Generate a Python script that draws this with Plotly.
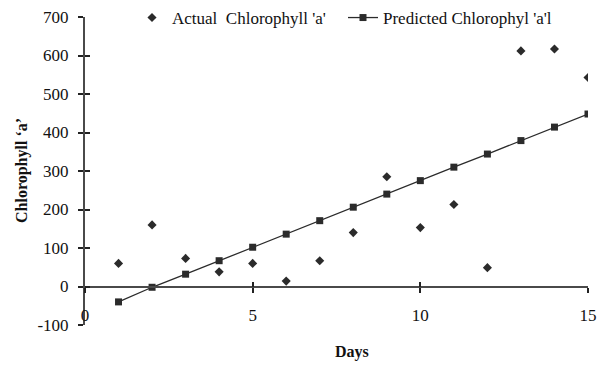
import plotly.graph_objects as go

# Daily chlorophyll 'a' observations and model predictions
days = [1, 2, 3, 4, 5, 6, 7, 8, 9, 10, 11, 12, 13, 14, 15]
actual_chl = [60, 160, 73, 38, 60, 14, 67, 140, 285, 153, 213, 49, 612, 617, 543]
predicted_chl = [-40, -2, 32, 67, 102, 136, 171, 206, 240, 275, 310, 344, 379, 414, 448]

x_ticks = [0, 5, 10, 15]
y_ticks = [-100, 0, 100, 200, 300, 400, 500, 600, 700]

FONT = "Liberation Serif"
AXIS_COLOR = "#4a4a4a"
MARK_COLOR = "#2b2b2b"

# Paper area: 503 x 325 px (no top margin, the legend sits in the strip above the plot)
PW, PH = 602 - 85 - 14, 366 - 41
PLOT_TOP = 17          # px from the top of the page
Y_ZERO_PX = 287        # where value 0 falls on the y axis


def px_y(py):
    """Convert a page pixel row into a paper y fraction."""
    return (PH - py) / PH


def px_x(px):
    return (px - 85) / PW


fig = go.Figure()

fig.add_trace(go.Scatter(
    x=days, y=actual_chl, mode="markers",
    name="Actual  Chlorophyll 'a'",
    marker=dict(symbol="diamond", size=7, color=MARK_COLOR),
    legend="legend",
))
fig.add_trace(go.Scatter(
    x=days, y=predicted_chl, mode="lines+markers",
    name="Predicted Chlorophyl 'a'l",
    line=dict(color=MARK_COLOR, width=1.3),
    marker=dict(symbol="square", size=7, color=MARK_COLOR),
    legend="legend2",
))

tick_font = dict(family=FONT, size=17, color="#111")
legend_font = dict(family=FONT, size=17, color="#111")

fig.update_layout(
    width=602, height=366,
    margin=dict(l=85, r=14, t=0, b=41, autoexpand=False),
    paper_bgcolor="white", plot_bgcolor="white",
    font=dict(family=FONT, size=17, color="#111"),
    xaxis=dict(
        range=[0, 15], tickvals=x_ticks, ticktext=[str(v) for v in x_ticks],
        anchor="free", position=px_y(Y_ZERO_PX),
        showline=True, linecolor=AXIS_COLOR, linewidth=2,
        ticks="outside", ticklen=5, tickwidth=1.5, tickcolor="#222",
        ticklabelstandoff=8, tickfont=tick_font,
        showgrid=False, zeroline=False,
    ),
    xaxis2=dict(
        range=[0, 15], tickvals=x_ticks, overlaying="x",
        anchor="free", position=px_y(Y_ZERO_PX), showticklabels=False,
        showline=False, ticks="inside", ticklen=5, tickwidth=1.5, tickcolor="#222",
        showgrid=False, zeroline=False,
    ),
    yaxis=dict(
        range=[-100, 700], domain=[0, px_y(PLOT_TOP)],
        tickvals=y_ticks, ticktext=[str(v) for v in y_ticks],
        showline=True, linecolor=AXIS_COLOR, linewidth=2,
        ticks="outside", ticklen=5, tickwidth=1.5, tickcolor="#222",
        ticklabelstandoff=6, tickfont=tick_font,
        showgrid=False, zeroline=False,
    ),
    yaxis2=dict(
        range=[-100, 700], domain=[0, px_y(PLOT_TOP)],
        tickvals=y_ticks, overlaying="y", anchor="x",
        showticklabels=False, showline=False,
        ticks="inside", ticklen=5, tickwidth=1.5, tickcolor="#222",
        showgrid=False, zeroline=False,
    ),
    legend=dict(x=px_x(132), y=px_y(18), xanchor="left", yanchor="middle",
                bgcolor="rgba(0,0,0,0)", font=legend_font, itemwidth=30),
    legend2=dict(x=px_x(343), y=px_y(18), xanchor="left", yanchor="middle",
                 bgcolor="rgba(0,0,0,0)", font=legend_font, itemwidth=30),
    showlegend=True,
    annotations=[
        dict(text="<b>Chlorophyll \u2018a\u2019</b>", textangle=-90,
             xref="paper", yref="paper", x=px_x(22), y=px_y(171),
             xanchor="center", yanchor="middle", showarrow=False,
             font=dict(family=FONT, size=16, color="#111")),
        dict(text="<b>Days</b>", xref="paper", yref="paper",
             x=px_x(352), y=px_y(352),
             xanchor="center", yanchor="middle", showarrow=False,
             font=dict(family=FONT, size=16, color="#111")),
    ],
)

# empty trace so the inner tick axes are rendered
fig.add_trace(go.Scatter(x=[None], y=[None], xaxis="x2", yaxis="y2",
                         showlegend=False, hoverinfo="skip"))

fig.write_html("out.html")
